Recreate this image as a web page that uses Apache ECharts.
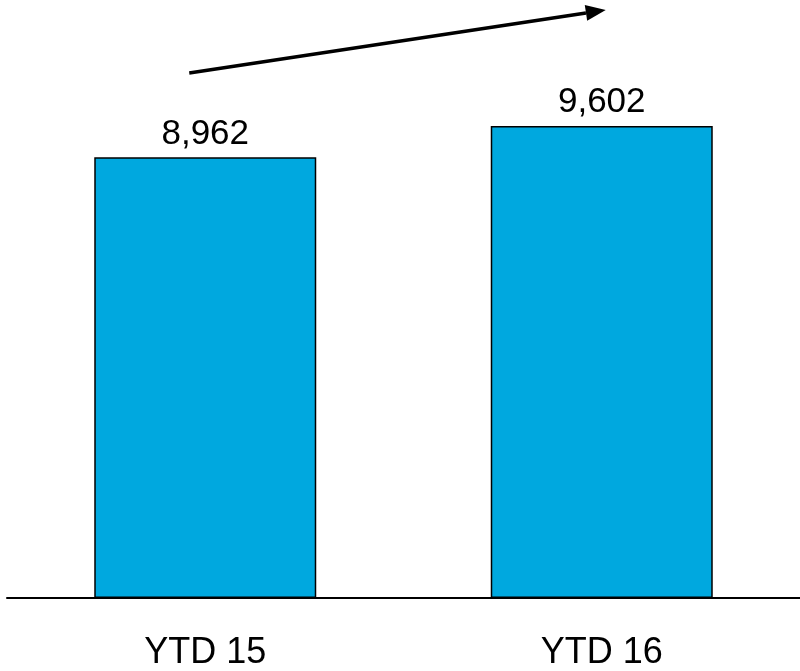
<!DOCTYPE html>
<html>
<head>
<meta charset="utf-8">
<script src="https://cdn.jsdelivr.net/npm/echarts@6/dist/echarts.min.js"></script>
<style>html,body{margin:0;padding:0;background:#fff}#c{width:800px;height:671px}</style>
</head>
<body>
<div id="c"></div>
<script>
const categories = ['YTD 15', 'YTD 16'];
const values = [8962, 9602];
const arrowFrom = [0, 10680];
const arrowTo = [1, 11960];

const chart = echarts.init(document.getElementById('c'), null, {renderer: 'canvas'});
const font = '"Liberation Sans", Arial, sans-serif';
chart.setOption({
  animation: false,
  grid: {left: 7, right: -2, top: 8, bottom: 72, containLabel: false},
  xAxis: {
    type: 'category',
    data: categories,
    axisLine: {lineStyle: {color: '#000', width: 2}},
    axisTick: {show: false},
    axisLabel: {color: '#000', fontSize: 36, fontFamily: font, margin: 37}
  },
  yAxis: {type: 'value', min: 0, max: 12000, show: false, splitLine: {show: false}},
  series: [{
    type: 'bar',
    data: values,
    barWidth: 222,
    itemStyle: {color: '#00A8DF', borderColor: '#000', borderWidth: 1.5},
    label: {
      show: true, position: 'top', distance: 6, color: '#000', fontSize: 35, fontFamily: font,
      formatter: p => p.value.toLocaleString('en-US')
    }
  }]
});

const p1 = chart.convertToPixel({gridIndex: 0}, arrowFrom);
const p2 = chart.convertToPixel({gridIndex: 0}, arrowTo);
const x1 = p1[0] - 16, y1 = p1[1];
const x2 = p2[0] + 4, y2 = p2[1];
const ang = Math.atan2(y2 - y1, x2 - x1);
const hl = 20, hw = 8;
const bx = x2 - hl * Math.cos(ang), by = y2 - hl * Math.sin(ang);
const nx = -Math.sin(ang), ny = Math.cos(ang);
chart.setOption({
  graphic: [
    {type: 'line', shape: {x1: x1, y1: y1, x2: bx, y2: by}, style: {stroke: '#000', lineWidth: 3.5}},
    {type: 'polygon', shape: {points: [[x2, y2], [bx + nx * hw, by + ny * hw], [bx - nx * hw, by - ny * hw]]}, style: {fill: '#000'}}
  ]
});
</script>
</body>
</html>
